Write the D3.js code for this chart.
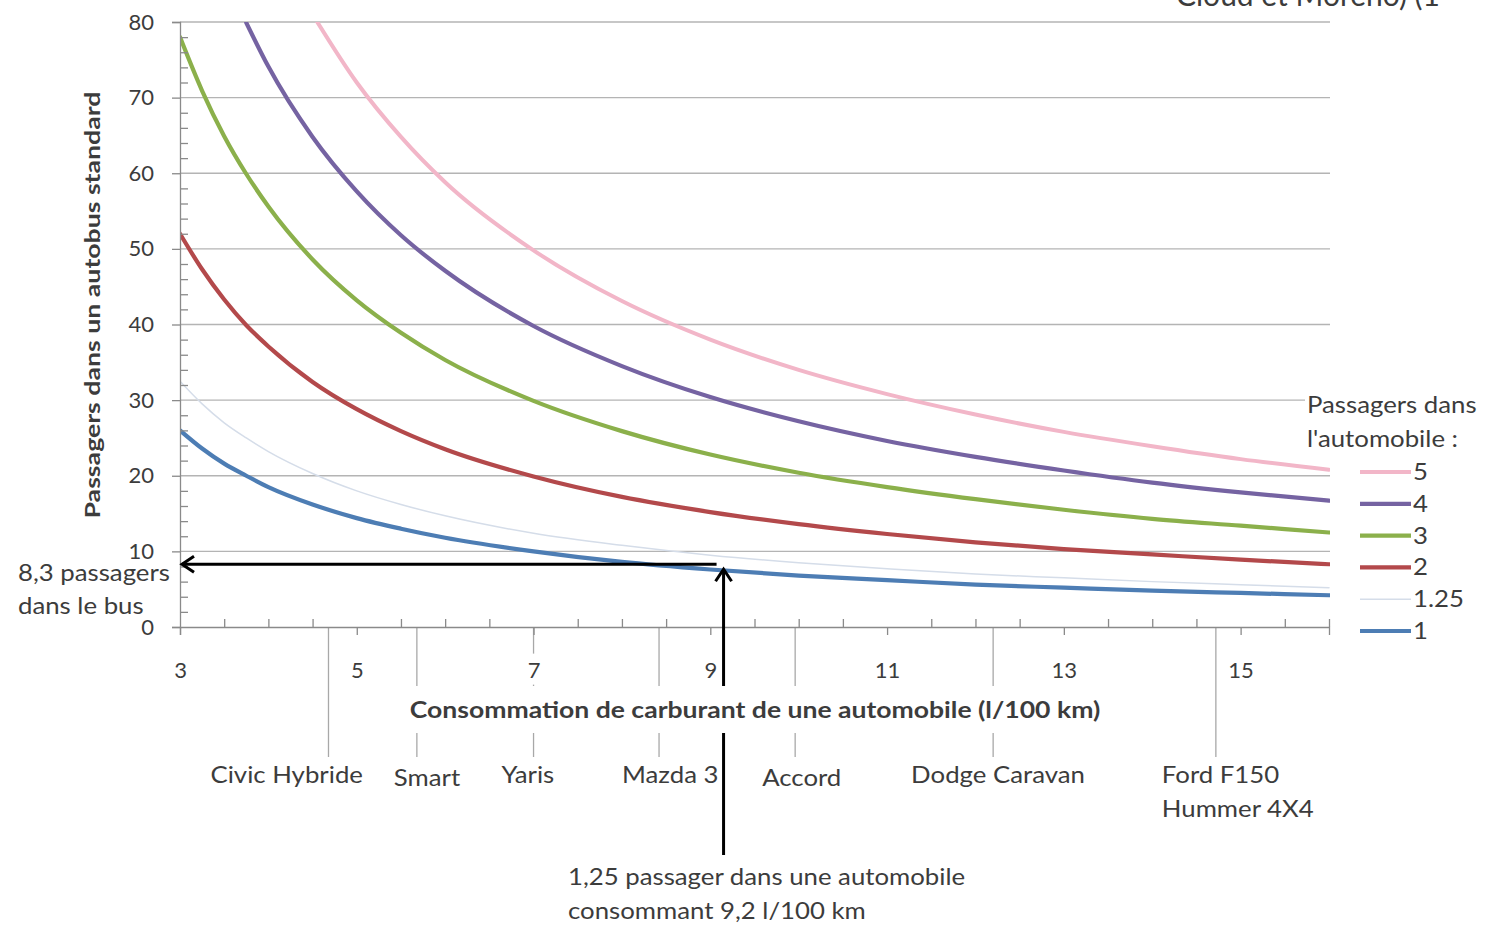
<!DOCTYPE html>
<html><head><meta charset="utf-8">
<script src="https://cdn.jsdelivr.net/npm/d3@7"></script>
<style>
body{margin:0;background:#fff;}
svg{display:block;}
text{font-family:Lato,"Open Sans",sans-serif;fill:#3c3c3c;}
</style>
</head><body>
<svg id="c" width="1497" height="925"></svg>
<script>
// ---------- data ----------
const xSamples = [3, 3.25, 3.5, 3.75, 4, 4.5, 5, 5.5, 6, 7, 8, 9, 10, 11, 12, 13, 14, 15, 16];
const pass1   = [26.0, 23.6, 21.6, 20.0, 18.5, 16.2, 14.4, 13.0, 11.8, 10.0, 8.6, 7.6, 6.8, 6.2, 5.6, 5.2, 4.8, 4.5, 4.2];
const pass125 = [32.5, 29.5, 27.0, 25.0, 23.2, 20.3, 18.0, 16.2, 14.7, 12.4, 10.8, 9.5, 8.5, 7.7, 7.0, 6.5, 6.0, 5.6, 5.2];
const pass2   = [52.0, 47.3, 43.3, 39.9, 37.1, 32.4, 28.8, 25.9, 23.5, 19.9, 17.2, 15.2, 13.6, 12.3, 11.2, 10.3, 9.6, 8.9, 8.3];
const pass3   = [78.0, 70.9, 64.9, 59.9, 55.6, 48.6, 43.2, 38.9, 35.3, 29.9, 25.9, 22.8, 20.4, 18.5, 16.9, 15.5, 14.3, 13.4, 12.5];
const pass4   = [null, null, null, 79.9, 74.1, 64.8, 57.6, 51.8, 47.1, 39.8, 34.5, 30.4, 27.2, 24.6, 22.5, 20.7, 19.1, 17.8, 16.7];
const pass5   = [null, null, null, null, null, 81.0, 72.0, 64.8, 58.8, 49.8, 43.1, 38.0, 34.0, 30.8, 28.1, 25.8, 23.9, 22.2, 20.8];
const seriesNames = ["5", "4", "3", "2", "1.25", "1"];
const seriesValues = [pass5, pass4, pass3, pass2, pass125, pass1];

const yTicks = [0, 10, 20, 30, 40, 50, 60, 70, 80];
const xTicks = [3, 5, 7, 9, 11, 13, 15];
const carNames = ["Civic Hybride", "Smart", "Yaris", "Mazda 3", "Accord", "Dodge Caravan", "Ford F150"];
const carConsumption = [4.68, 5.68, 7.0, 8.42, 9.96, 12.2, 14.72];
const annotBusPassengers = 8.3;
const annotCarConsumption = 9.15;
const annotCarCurveValue = 7.9;

// ---------- styles / layout ----------
const colors = {"5":"#f2b6c8","4":"#7563a2","3":"#8bb04b","2":"#b3494b","1.25":"#d5dde9","1":"#4d7db4"};
const widths = {"5":4,"4":4.2,"3":4.2,"2":4.2,"1.25":1.5,"1":4.2};
const carLabelDx = [-118, -23, -32, -37, -33, -82, -54];
const FS = 23, STR = 1.12;

function stretch(sel, f){
  sel.each(function(){
    const L = this.getComputedTextLength();
    d3.select(this).attr("textLength", L*f).attr("lengthAdjust","spacingAndGlyphs");
  });
  return sel;
}

const svg = d3.select("#c");
const x = d3.scaleLinear().domain([3, 16]).range([180, 1329]);
const y = d3.scaleLinear().domain([0, 80]).range([627, 22]);

svg.append("defs").append("clipPath").attr("id","plot")
  .append("rect").attr("x",180).attr("y",22).attr("width",1150).attr("height",605);

// gridlines
svg.append("g").selectAll("line").data(yTicks.filter(d=>d>0)).join("line")
  .attr("x1", 180).attr("x2", 1330).attr("y1", d=>y(d)).attr("y2", d=>y(d))
  .attr("stroke", "#b4b4b4").attr("stroke-width", 1.3);

// car marker lines
svg.append("g").selectAll("line").data(carConsumption).join("line")
  .attr("x1", d=>x(d)).attr("x2", d=>x(d)).attr("y1", y(0)).attr("y2", 757)
  .attr("stroke", "#a8a8a8").attr("stroke-width", 1.3);

// curves
const line = d3.line().defined(d=>d[1]!=null).x(d=>x(d[0])).y(d=>y(d[1])).curve(d3.curveMonotoneX);
const cg = svg.append("g").attr("clip-path","url(#plot)");
const drawOrder = [4, 5, 3, 2, 1, 0];
drawOrder.forEach(i=>{
  const name = seriesNames[i];
  const pts = xSamples.map((xv,j)=>[xv, seriesValues[i][j]]);
  cg.append("path").datum(pts).attr("d", line)
    .attr("fill","none").attr("stroke", colors[name]).attr("stroke-width", widths[name])
    .attr("stroke-linecap","round");
});

// y axis
const yAxisG = svg.append("g").attr("transform","translate(180,0)")
  .call(d3.axisLeft(y).tickValues(yTicks).tickSize(8).tickPadding(18));
yAxisG.select(".domain").attr("stroke","#8a8a8a").attr("stroke-width",1.3);
yAxisG.selectAll(".tick line").attr("stroke","#8a8a8a").attr("stroke-width",1.3);
yAxisG.selectAll(".tick text").attr("font-size",22).attr("font-family","Lato").attr("fill","#3c3c3c");
const yMinor = svg.append("g").attr("transform","translate(180,0)")
  .call(d3.axisLeft(y).tickValues(d3.range(0, 81, 2).filter(d=>d%10!==0)).tickSize(-8).tickFormat(""));
yMinor.select(".domain").remove();
yMinor.selectAll(".tick line").attr("stroke","#8a8a8a").attr("stroke-width",1.3);

// x axis
const xAxisG = svg.append("g").attr("transform",`translate(0,${y(0)})`)
  .call(d3.axisBottom(x).tickValues(xTicks).tickSize(8).tickPadding(27));
xAxisG.select(".domain").attr("stroke","#8a8a8a").attr("stroke-width",1.3);
xAxisG.selectAll(".tick line").attr("stroke","#8a8a8a").attr("stroke-width",1.3);
xAxisG.selectAll(".tick text").attr("font-size",22).attr("font-family","Lato").attr("fill","#3c3c3c");
const xMinor = svg.append("g").attr("transform",`translate(0,${y(0)})`)
  .call(d3.axisBottom(x).tickValues(d3.range(3, 16.01, 0.5).filter(d=>!xTicks.includes(d))).tickSize(-8).tickFormat(""));
xMinor.select(".domain").remove();
xMinor.selectAll(".tick line").attr("stroke","#8a8a8a").attr("stroke-width",1.3);

// arrows
const arr = svg.append("g").attr("stroke","#000").attr("stroke-width",3).attr("fill","none");
const hy = y(annotBusPassengers);
arr.append("line").attr("x1", x(3)+2).attr("x2", x(annotCarConsumption)-7).attr("y1", hy).attr("y2", hy);
arr.append("path").attr("d", `M${x(3)+14},${hy-8} L${x(3)+2},${hy} L${x(3)+14},${hy+8}`);
const vx = x(annotCarConsumption), vy = y(annotCarCurveValue);
arr.append("line").attr("x1", vx).attr("x2", vx).attr("y1", vy+2).attr("y2", 855);
arr.append("path").attr("d", `M${vx-8},${vy+14} L${vx},${vy+2} L${vx+8},${vy+14}`);

// white backgrounds behind x tick labels
xAxisG.selectAll(".tick").each(function(){
  const t = d3.select(this).select("text").node().getBBox();
  d3.select(this).insert("rect","text").attr("x",t.x-3).attr("y",t.y-2).attr("width",t.width+6).attr("height",t.height+4).attr("fill","#fff");
});

// x title with background
const xt = svg.append("text").attr("x", 755).attr("y", 718).attr("text-anchor","middle")
  .attr("font-size",23).attr("font-weight","bold").attr("fill","#111")
  .text("Consommation de carburant de une automobile (l/100 km)");
stretch(xt, 1.154);
const xb = xt.node().getBBox();
svg.insert("rect", () => xt.node()).attr("x", 755 - xt.node().getComputedTextLength()/2 - 8).attr("y", 686)
  .attr("width", xt.node().getComputedTextLength()+16).attr("height", 47).attr("fill","#fff");

// y title
const ytl = svg.append("text").attr("transform","translate(100,305) rotate(-90)").attr("text-anchor","middle")
  .attr("font-size",21).attr("font-weight","bold").attr("fill","#111")
  .text("Passagers dans un autobus standard");
stretch(ytl, 1.27);

// car labels
stretch(svg.append("g").selectAll("text").data(carNames).join("text")
  .attr("x", (d,i)=>x(carConsumption[i]) + carLabelDx[i]).attr("y", (d,i)=> i===1||i===4 ? 786 : 783)
  .attr("font-size",FS).text(d=>d), STR);
stretch(svg.append("text").attr("x", x(carConsumption[6]) + carLabelDx[6]).attr("y", 817).attr("font-size",FS).text("Hummer 4X4"), STR);

// legend
const lg = svg.append("g");
const lt1 = lg.append("text").attr("x",1307).attr("y",413).attr("font-size",FS).text("Passagers dans");
stretch(lt1, STR);
const lw = lt1.node().getComputedTextLength();
lg.insert("rect", () => lt1.node()).attr("x", 1305).attr("y", 392).attr("width", lw+6).attr("height", 28).attr("fill","#fff");
stretch(lg.append("text").attr("x",1307).attr("y",447).attr("font-size",FS).text("l'automobile :"), STR);
seriesNames.forEach((name,i)=>{
  const ly = 472 + i*31.8;
  lg.append("line").attr("x1",1360).attr("x2",1411).attr("y1",ly).attr("y2",ly)
    .attr("stroke",colors[name]).attr("stroke-width",widths[name]);
  stretch(lg.append("text").attr("x",1413).attr("y",ly+8).attr("font-size",FS).text(name), STR);
});

// annotations
stretch(svg.append("text").attr("x",18).attr("y",581).attr("font-size",FS).text("8,3 passagers"), STR);
stretch(svg.append("text").attr("x",18).attr("y",614).attr("font-size",FS).text("dans le bus"), STR);
stretch(svg.append("text").attr("x",568).attr("y",885).attr("font-size",FS).text("1,25 passager dans une automobile"), STR);
stretch(svg.append("text").attr("x",568).attr("y",919).attr("font-size",FS).text("consommant 9,2 l/100 km"), STR);

// clipped source text at top-right
svg.append("text").attr("x",1176).attr("y",6).attr("font-size",30).attr("fill","#111").text("Cloud et Moreno) (1");
</script>
</body></html>
